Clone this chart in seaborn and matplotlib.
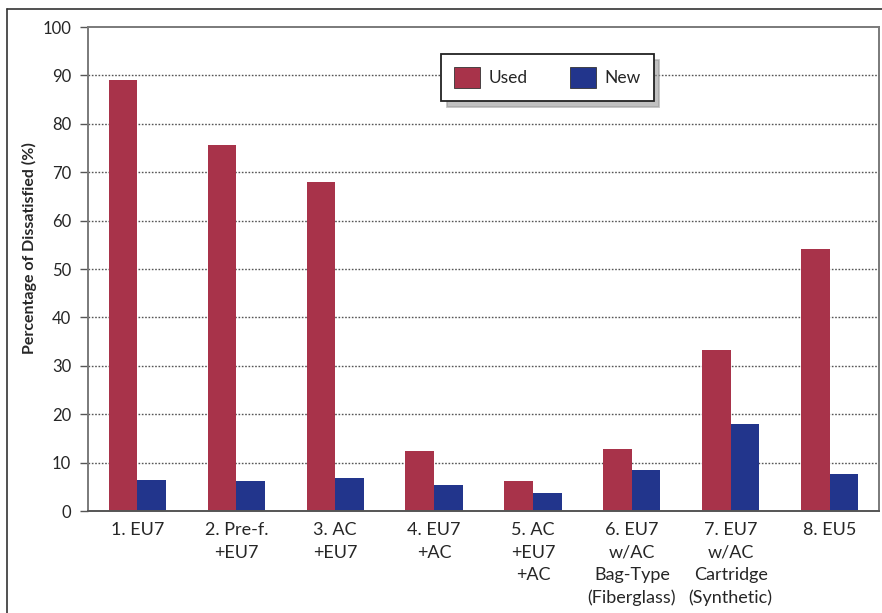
import matplotlib
matplotlib.use("Agg")
import matplotlib.pyplot as plt
from matplotlib.lines import Line2D
import seaborn as sns
import pandas as pd

categories = [
    "1. EU7",
    "2. Pre-f.\n+EU7",
    "3. AC\n+EU7",
    "4. EU7\n+AC",
    "5. AC\n+EU7\n+AC",
    "6. EU7\nw/AC\nBag-Type\n(Fiberglass)",
    "7. EU7\nw/AC\nCartridge\n(Synthetic)",
    "8. EU5",
]
used = [89.0, 75.6, 68.0, 12.4, 6.2, 12.8, 33.3, 54.1]
new = [6.4, 6.2, 6.8, 5.4, 3.7, 8.4, 17.9, 7.6]
series = ["Used", "New"]
yticks = [0, 10, 20, 30, 40, 50, 60, 70, 80, 90, 100]

df = pd.DataFrame({
    "Filter": categories * 2,
    "Condition": [series[0]] * len(used) + [series[1]] * len(new),
    "Value": used + new,
})

sns.set_theme(style="white")
plt.rcParams["font.family"] = ["Lato", "DejaVu Sans"]

fig = plt.figure(figsize=(8.82, 6.13), dpi=100)
ax = fig.add_axes([88 / 882, 1 - 511 / 613, (879 - 88) / 882, (511 - 27) / 613])

sns.barplot(
    data=df, x="Filter", y="Value", hue="Condition", order=categories,
    hue_order=series, palette=["#A8334A", "#22358C"], width=0.58,
    saturation=1, edgecolor="none", ax=ax,
)

ax.set_ylim(0, 100)
ax.set_xlim(-0.5, len(categories) - 0.5)
ax.set_yticks(yticks)
ax.set_yticklabels([str(t) for t in yticks], fontsize=12)
ax.set_xticks(range(len(categories)))
ax.set_xticklabels(categories, fontsize=13, linespacing=1.5, va="top")
ax.tick_params(axis="x", length=0, pad=8)
ax.tick_params(axis="y", length=6, width=1, color="#555555", direction="out", pad=6, left=True)
ax.set_xlabel("")
ax.set_ylabel("Percentage of Dissatisfied (%)", fontsize=11.5, fontweight="bold")
ax.yaxis.set_label_coords((37 - 88) / 791, (511 - 248) / 484)

for t in yticks[1:-1]:
    ax.axhline(t, color="#555555", linestyle=(0, (1.2, 1.2)), linewidth=1.0, zorder=0.5)

for side, spine in ax.spines.items():
    spine.set_visible(True)
    spine.set_color("#7a7a7a")
    spine.set_linewidth(1.4)
ax.spines["bottom"].set_color("#555555")

leg = ax.legend(
    loc="upper left", bbox_to_anchor=((441 - 88) / 791, (511 - 54) / 484),
    ncol=2, fontsize=12.5, frameon=True, fancybox=False,
    shadow={"color": "#999999", "alpha": 0.6, "ox": 4, "oy": -4},
    edgecolor="#222222", handlelength=1.5, handleheight=1.5,
    columnspacing=2.4, handletextpad=0.5, borderpad=0.75, borderaxespad=0,
)
leg.get_frame().set_linewidth(1.3)
for h in leg.legend_handles:
    h.set_edgecolor("#333333")
    h.set_linewidth(0.6)

# Outer border of the figure panel
fig.add_artist(Line2D([7 / 882, 1.0], [1 - 9 / 613, 1 - 9 / 613], color="#333333", linewidth=1.2))
fig.add_artist(Line2D([7 / 882, 7 / 882], [0.0, 1 - 9 / 613], color="#333333", linewidth=1.2))

fig.savefig("out.png", dpi=100)
